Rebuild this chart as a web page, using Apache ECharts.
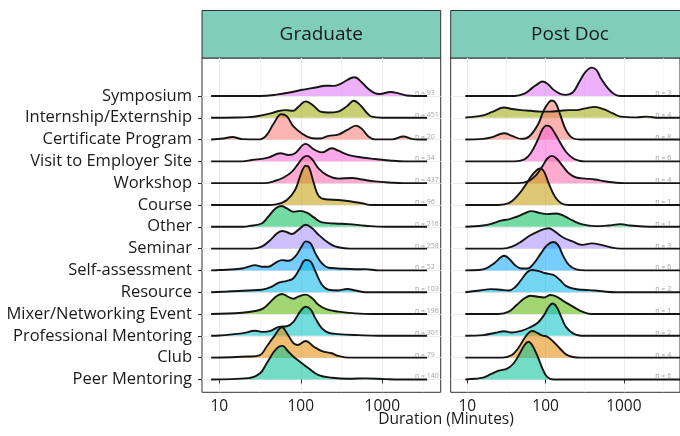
<!DOCTYPE html>
<html>
<head>
<meta charset="utf-8">
<script src="https://cdn.jsdelivr.net/npm/echarts@6/dist/echarts.min.js"></script>
<style>html,body{margin:0;padding:0;background:#fff}#c{width:680px;height:436px}</style>
</head>
<body>
<div id="c"></div>
<script>
// categories, bottom to top
const categories = ['Peer Mentoring','Club','Professional Mentoring','Mixer/Networking Event','Resource','Self-assessment','Seminar','Other','Course','Workshop','Visit to Employer Site','Certificate Program','Internship/Externship','Symposium'];
const colors = ['#00C094','#E38900','#00BFC4','#53B400','#00B6EB','#06A4FF','#A58AFF','#00BC56','#C49A00','#FF66A8','#FB61D7','#F8766D','#99A800','#DF70F8'];
const panels = ['Graduate','Post Doc'];
const gradCounts = [140,79,301,196,103,52,258,216,96,437,34,20,451,93];
const postCounts = [6,4,2,1,2,6,3,1,1,4,6,8,4,3];
const xTickExponents = [1,2,3];           // 10, 100, 1000 minutes
const xMinorExponents = [1.5,2.5,3.5];

// ridges: [log10(minutes), density height in row units]
const gradPeer = [[0.9,0],[1.36,0.06],[1.5,0.28],[1.58,0.73],[1.67,1.27],[1.73,1.5],[1.78,1.54],[1.83,1.35],[1.91,1.04],[1.99,0.81],[2.1,0.5],[2.22,0.2],[2.38,0.08],[2.59,0.03],[2.79,0.05],[3.04,0.015],[3.2,0],[3.55,0]];
const gradClub = [[0.9,0],[1.36,0.05],[1.5,0.12],[1.58,0.5],[1.67,0.96],[1.77,1.39],[1.83,1.12],[1.91,0.66],[1.96,0.58],[2.06,0.76],[2.16,0.5],[2.26,0.3],[2.38,0.2],[2.46,0.08],[2.6,0],[2.8,0],[3.55,0]];
const gradProfessional = [[0.9,0],[1.0,0.015],[1.28,0.11],[1.44,0.23],[1.54,0.18],[1.63,0.23],[1.73,0.41],[1.83,0.44],[1.91,0.64],[1.99,1.1],[2.06,1.33],[2.12,1.21],[2.18,0.8],[2.26,0.34],[2.34,0.14],[2.46,0.08],[2.71,0.03],[2.96,0],[3.55,0]];
const gradMixer = [[0.9,0],[1.28,0.06],[1.44,0.14],[1.54,0.26],[1.63,0.57],[1.71,0.84],[1.77,0.92],[1.84,0.8],[1.91,0.7],[1.97,0.8],[2.06,0.89],[2.14,0.72],[2.22,0.41],[2.32,0.21],[2.46,0.11],[2.67,0.03],[2.87,0],[3.55,0]];
const gradResource = [[0.9,0],[1.1,0.03],[1.36,0.08],[1.52,0.11],[1.63,0.23],[1.73,0.44],[1.83,0.52],[1.91,0.64],[1.99,1.1],[2.06,1.48],[2.12,1.41],[2.18,0.95],[2.26,0.34],[2.34,0.11],[2.46,0.08],[2.57,0.15],[2.67,0.08],[2.8,0],[3.55,0]];
const gradSelf = [[0.9,0],[1.0,0.015],[1.28,0.09],[1.44,0.24],[1.52,0.17],[1.6,0.17],[1.69,0.35],[1.77,0.47],[1.85,0.44],[1.93,0.63],[2.01,1.09],[2.06,1.33],[2.12,1.24],[2.18,0.78],[2.26,0.32],[2.34,0.12],[2.46,0.09],[2.67,0.05],[2.79,0.06],[2.96,0],[3.55,0]];
const gradSeminar = [[0.9,0],[1.4,0],[1.52,0.09],[1.63,0.4],[1.71,0.7],[1.77,0.81],[1.83,0.75],[1.89,0.67],[1.97,0.86],[2.06,1.09],[2.14,0.93],[2.22,0.63],[2.3,0.37],[2.38,0.17],[2.46,0.06],[2.6,0],[2.8,0],[3.55,0]];
const gradOther = [[0.9,0],[1.3,0],[1.36,0.03],[1.52,0.15],[1.6,0.46],[1.69,0.84],[1.76,0.95],[1.83,0.84],[1.91,0.69],[1.99,0.73],[2.08,0.64],[2.16,0.43],[2.26,0.2],[2.42,0.15],[2.59,0.12],[2.79,0.05],[3.04,0],[3.55,0]];
const gradCourse = [[0.9,0],[1.6,0],[1.7,0.03],[1.83,0.23],[1.93,0.69],[1.99,1.3],[2.03,1.68],[2.06,1.8],[2.1,1.73],[2.16,1.0],[2.22,0.41],[2.3,0.26],[2.46,0.23],[2.6,0.17],[2.75,0.08],[2.87,0],[3.0,0],[3.55,0]];
const gradWorkshop = [[0.9,0],[1.55,0],[1.69,0.11],[1.79,0.26],[1.89,0.52],[1.97,0.9],[2.03,1.18],[2.08,1.25],[2.14,1.09],[2.22,0.67],[2.32,0.37],[2.46,0.21],[2.63,0.24],[2.75,0.17],[2.91,0.08],[3.12,0.02],[3.25,0],[3.55,0]];
const gradVisit = [[0.9,0],[1.28,0],[1.4,0.06],[1.6,0.17],[1.75,0.37],[1.85,0.29],[1.93,0.37],[2.06,0.8],[2.16,0.55],[2.26,0.41],[2.38,0.6],[2.46,0.49],[2.59,0.29],[2.75,0.18],[2.91,0.11],[3.12,0.03],[3.28,0],[3.55,0]];
const gradCertificate = [[0.9,0],[1.05,0.05],[1.16,0.12],[1.28,0.02],[1.5,0.01],[1.58,0.2],[1.67,0.75],[1.76,1.16],[1.83,1.06],[1.91,0.6],[2.01,0.29],[2.14,0.06],[2.24,0.05],[2.34,0.17],[2.46,0.23],[2.57,0.44],[2.68,0.64],[2.75,0.49],[2.83,0.14],[2.91,0.01],[3.12,0.01],[3.26,0.14],[3.36,0.03],[3.45,0],[3.55,0]];
const gradInternship = [[0.9,0],[1.2,0.01],[1.36,0.03],[1.48,0.08],[1.63,0.2],[1.73,0.31],[1.81,0.35],[1.91,0.32],[1.97,0.5],[2.06,0.75],[2.16,0.54],[2.24,0.28],[2.34,0.24],[2.46,0.28],[2.57,0.54],[2.65,0.78],[2.73,0.58],[2.81,0.23],[2.87,0.05],[3.0,0],[3.55,0]];
const gradSymposium = [[0.9,0],[1.5,0],[1.7,0.06],[1.9,0.18],[2.0,0.27],[2.2,0.4],[2.3,0.47],[2.4,0.46],[2.5,0.58],[2.66,0.86],[2.75,0.62],[2.82,0.35],[2.9,0.14],[2.97,0.09],[3.1,0.18],[3.2,0.12],[3.3,0.02],[3.4,0],[3.55,0]];

const postPeer = [[0.975,0],[1.1,0.03],[1.2,0.08],[1.3,0.24],[1.4,0.4],[1.51,0.5],[1.59,0.73],[1.67,1.19],[1.73,1.57],[1.78,1.73],[1.83,1.57],[1.9,1.04],[1.96,0.5],[2.02,0.12],[2.1,0],[2.3,0],[3.75,0]];
const postClub = [[0.975,0],[1.45,0],[1.57,0.12],[1.65,0.43],[1.73,0.89],[1.79,1.16],[1.83,1.22],[1.9,1.12],[1.96,1.01],[2.02,0.96],[2.1,0.73],[2.18,0.43],[2.26,0.15],[2.35,0.03],[2.45,0],[2.7,0],[3.75,0]];
const postProfessional = [[0.975,0],[1.2,0.03],[1.36,0.14],[1.47,0.21],[1.57,0.15],[1.69,0.23],[1.79,0.37],[1.9,0.6],[1.98,0.95],[2.04,1.33],[2.09,1.48],[2.14,1.33],[2.2,0.87],[2.26,0.41],[2.35,0.11],[2.43,0.015],[2.5,0],[2.7,0],[3.75,0]];
const postMixer = [[0.975,0],[1.4,0],[1.53,0.11],[1.63,0.41],[1.73,0.72],[1.81,0.84],[1.9,0.79],[1.98,0.76],[2.06,0.87],[2.14,0.8],[2.24,0.57],[2.35,0.34],[2.47,0.11],[2.59,0],[2.8,0],[3.75,0]];
const postResource = [[0.975,0],[1.16,0.08],[1.3,0.14],[1.43,0.11],[1.53,0.08],[1.61,0.23],[1.69,0.57],[1.76,0.9],[1.82,1.02],[1.9,0.98],[2.0,0.87],[2.1,0.79],[2.18,0.57],[2.26,0.29],[2.35,0.17],[2.47,0.11],[2.63,0.08],[2.75,0.03],[2.9,0],[3.75,0]];
const postSelf = [[0.975,0],[1.15,0.02],[1.24,0.09],[1.34,0.32],[1.43,0.6],[1.47,0.67],[1.53,0.55],[1.61,0.24],[1.69,0.09],[1.77,0.09],[1.85,0.32],[1.94,0.78],[2.02,1.16],[2.1,1.3],[2.16,1.16],[2.22,0.7],[2.3,0.24],[2.39,0.05],[2.51,0],[2.7,0],[3.75,0]];
const postSeminar = [[0.975,0],[1.45,0],[1.57,0.09],[1.69,0.32],[1.79,0.58],[1.9,0.78],[1.98,0.89],[2.04,0.93],[2.12,0.78],[2.22,0.52],[2.35,0.32],[2.47,0.17],[2.59,0.24],[2.71,0.17],[2.84,0.05],[2.96,0],[3.15,0],[3.75,0]];
const postOther = [[0.975,0],[1.2,0.06],[1.32,0.15],[1.43,0.28],[1.53,0.34],[1.63,0.46],[1.73,0.61],[1.82,0.72],[1.92,0.64],[2.02,0.58],[2.14,0.61],[2.24,0.49],[2.35,0.28],[2.47,0.11],[2.63,0.03],[2.8,0.06],[2.96,0.12],[3.08,0.06],[3.25,0.015],[3.4,0],[3.75,0]];
const postCourse = [[0.975,0],[1.4,0],[1.53,0.08],[1.63,0.38],[1.73,0.84],[1.83,1.38],[1.9,1.64],[1.93,1.68],[1.98,1.53],[2.04,0.99],[2.12,0.38],[2.2,0.08],[2.3,0],[2.5,0],[3.75,0]];
const postWorkshop = [[0.975,0],[1.65,0],[1.79,0.11],[1.88,0.37],[1.96,0.78],[2.02,1.12],[2.08,1.25],[2.14,1.13],[2.22,0.78],[2.3,0.44],[2.39,0.26],[2.51,0.21],[2.63,0.17],[2.75,0.09],[2.88,0.03],[3.0,0],[3.2,0],[3.75,0]];
const postVisit = [[0.975,0],[1.6,0],[1.73,0.09],[1.81,0.37],[1.9,0.98],[1.96,1.47],[2.01,1.64],[2.06,1.59],[2.12,1.28],[2.18,0.9],[2.26,0.44],[2.35,0.14],[2.43,0.03],[2.51,0],[2.7,0],[3.75,0]];
const postCertificate = [[0.975,0],[1.2,0.03],[1.32,0.11],[1.47,0.29],[1.57,0.17],[1.69,0.03],[1.79,0.14],[1.9,0.67],[1.98,1.36],[2.04,1.7],[2.08,1.79],[2.13,1.67],[2.18,1.21],[2.26,0.44],[2.35,0.06],[2.45,0],[2.65,0],[3.75,0]];
const postInternship = [[0.975,0.01],[1.2,0.11],[1.32,0.27],[1.47,0.47],[1.57,0.4],[1.69,0.35],[1.81,0.32],[1.94,0.28],[2.06,0.28],[2.18,0.32],[2.3,0.35],[2.39,0.35],[2.51,0.43],[2.63,0.5],[2.75,0.38],[2.86,0.2],[2.96,0.05],[3.16,0.015],[3.29,0.05],[3.45,0],[3.75,0]];
const postSymposium = [[0.975,0],[1.6,0],[1.73,0.11],[1.83,0.37],[1.92,0.6],[1.96,0.66],[2.02,0.57],[2.1,0.29],[2.18,0.11],[2.26,0.05],[2.35,0.17],[2.43,0.64],[2.51,1.1],[2.59,1.3],[2.65,1.19],[2.71,0.79],[2.8,0.34],[2.88,0.08],[2.96,0],[3.15,0],[3.75,0]];

const gradRidges = [gradPeer,gradClub,gradProfessional,gradMixer,gradResource,gradSelf,gradSeminar,gradOther,gradCourse,gradWorkshop,gradVisit,gradCertificate,gradInternship,gradSymposium];
const postRidges = [postPeer,postClub,postProfessional,postMixer,postResource,postSelf,postSeminar,postOther,postCourse,postWorkshop,postVisit,postCertificate,postInternship,postSymposium];

const rowIndex = categories.map((c, i) => i);
const X_MIN = 0.788, X_MAX = 3.717, Y_MIN = -0.59, Y_MAX = 14.74;
const FONT = '"Open Sans"';

function ridgeSeries(ridges, panel) {
  const out = [];
  for (let r = ridges.length - 1; r >= 0; r--) {
    out.push({
      type: 'line', xAxisIndex: panel * 2, yAxisIndex: panel,
      data: ridges[r].map(p => [p[0], r + p[1]]),
      smooth: 0.4, symbol: 'none', showSymbol: false, silent: true,
      lineStyle: { color: '#151515', width: 1.9 },
      areaStyle: { origin: r, color: colors[r], opacity: 0.55 },
      z: 3
    });
  }
  return out;
}
function countSeries(counts, panel) {
  return {
    type: 'scatter', xAxisIndex: panel * 2, yAxisIndex: panel, symbolSize: 0.1, silent: true, z: 10,
    data: counts.map((n, r) => ({ value: [3.4, r], name: 'n = ' + n })),
    label: { show: true, position: 'right', distance: 0, formatter: '{b}', fontSize: 7, color: '#8c8c8c', fontFamily: FONT, offset: [0, -3] }
  };
}
function xAxes(grid) {
  return [
    { gridIndex: grid, type: 'value', min: X_MIN, max: X_MAX,
      axisLine: { show: false },
      axisTick: { show: true, customValues: xTickExponents, length: 4, lineStyle: { color: '#333' } },
      axisLabel: { customValues: xTickExponents, formatter: v => String(Math.round(Math.pow(10, v))), fontSize: 15.5, color: '#1a1a1a', fontFamily: FONT, margin: 6 },
      splitLine: { show: true, lineStyle: { color: '#EBEBEB', width: 1.1 } } },
    { gridIndex: grid, type: 'value', min: X_MIN, max: X_MAX, position: 'top',
      axisLine: { show: false },
      axisTick: { show: false, customValues: xMinorExponents },
      axisLabel: { show: false, customValues: xMinorExponents },
      splitLine: { show: true, lineStyle: { color: '#F0F0F0', width: 0.7 } } }
  ];
}
function yAxis(grid, labels) {
  return { gridIndex: grid, type: 'value', min: Y_MIN, max: Y_MAX,
    axisLine: { show: false },
    axisTick: { show: labels, customValues: rowIndex, length: 4, lineStyle: { color: '#333' } },
    axisLabel: { show: labels, customValues: rowIndex, formatter: v => categories[Math.round(v)], fontSize: 16.5, color: '#1a1a1a', fontFamily: FONT, margin: 10 },
    splitLine: { show: true, lineStyle: { color: '#EBEBEB', width: 1 } } };
}

const chart = echarts.init(document.getElementById('c'), null, { renderer: 'canvas' });
const gridDefs = [
  { left: 202, top: 58, width: 238.7, height: 334.3 },
  { left: 450.7, top: 58, width: 238.7, height: 334.3 }
];
chart.setOption({
  animation: false,
  backgroundColor: '#fff',
  grid: gridDefs.map(g => Object.assign({ show: true, borderColor: '#333', borderWidth: 1, backgroundColor: '#fff', containLabel: false }, g)),
  xAxis: xAxes(0).concat(xAxes(1)),
  yAxis: [yAxis(0, true), yAxis(1, false)],
  graphic: [
    { type: 'rect', shape: { x: 202, y: 10.5, width: 238.7, height: 47.5 }, style: { fill: '#80CDB9', stroke: '#333', lineWidth: 1 } },
    { type: 'text', x: 321.3, y: 34.5, style: { text: panels[0], textAlign: 'center', textVerticalAlign: 'middle', font: '19px ' + FONT, fill: '#1a1a1a' } },
    { type: 'rect', shape: { x: 450.7, y: 10.5, width: 238.7, height: 47.5 }, style: { fill: '#80CDB9', stroke: '#333', lineWidth: 1 } },
    { type: 'text', x: 570, y: 34.5, style: { text: panels[1], textAlign: 'center', textVerticalAlign: 'middle', font: '19px ' + FONT, fill: '#1a1a1a' } },
    { type: 'text', x: 446, y: 412, style: { text: 'Duration (Minutes)', textAlign: 'center', textVerticalAlign: 'top', font: '15.5px ' + FONT, fill: '#1a1a1a' } }
  ],
  series: ridgeSeries(gradRidges, 0).concat(ridgeSeries(postRidges, 1), [countSeries(gradCounts, 0), countSeries(postCounts, 1)])
});
</script>
</body>
</html>
